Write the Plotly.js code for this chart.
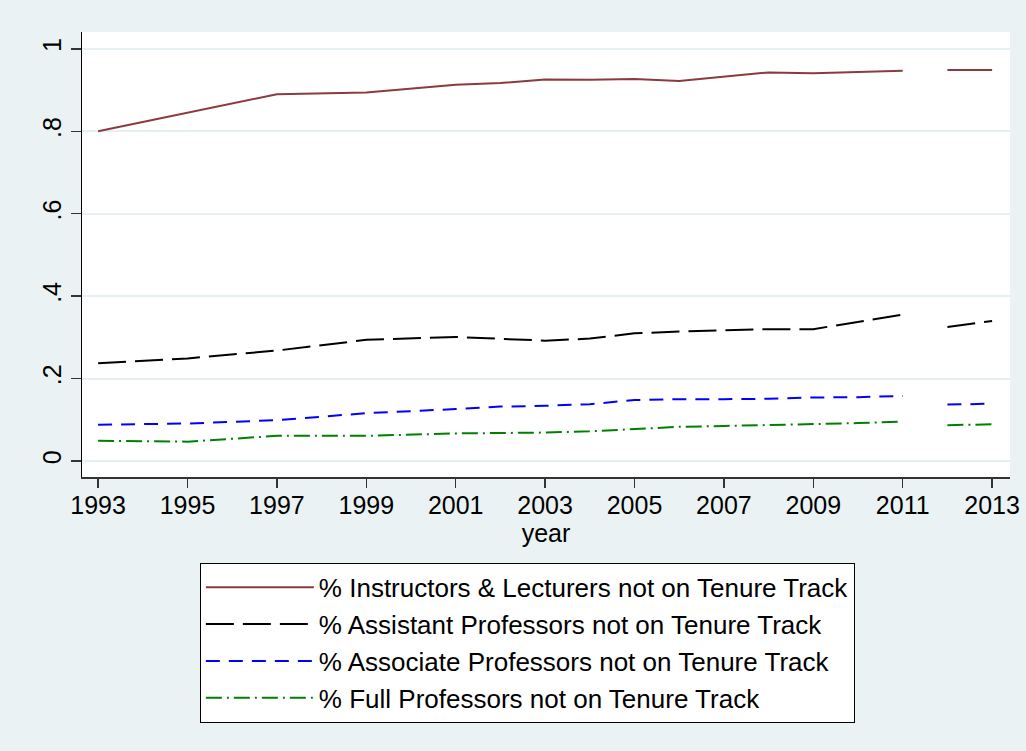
<!DOCTYPE html>
<html>
<head>
<meta charset="utf-8">
<script src="https://cdn.plot.ly/plotly-3.0.1.min.js"></script>
<style>
  html, body { margin: 0; padding: 0; background: #EAF2F3; }
  #chart { width: 1026px; height: 751px; }
</style>
</head>
<body>
<div id="chart"></div>
<script>
// Years (null marks the missing observation that breaks each line)
const years = [1993, 1995, 1997, 1999, 2001, 2002, 2003, 2004, 2005, 2006, 2007, 2008, 2009, 2010, 2011, null, 2012, 2013];

const instructorsLecturers = [0.800, 0.845, 0.890, 0.894, 0.913, 0.917, 0.926, 0.925, 0.927, 0.922, 0.933, 0.943, 0.941, 0.944, 0.947, null, 0.949, 0.949];
const assistantProfs      = [0.237, 0.249, 0.268, 0.294, 0.301, 0.296, 0.292, 0.297, 0.310, 0.314, 0.317, 0.320, 0.320, 0.337, 0.355, null, 0.325, 0.340];
const associateProfs      = [0.088, 0.091, 0.099, 0.116, 0.126, 0.132, 0.134, 0.138, 0.148, 0.150, 0.150, 0.151, 0.154, 0.155, 0.158, null, 0.137, 0.139];
const fullProfs           = [0.049, 0.047, 0.061, 0.061, 0.067, 0.068, 0.069, 0.072, 0.078, 0.083, 0.085, 0.087, 0.089, 0.092, 0.096, null, 0.087, 0.089];

const seriesNames = [
  "% Instructors & Lecturers not on Tenure Track",
  "% Assistant Professors not on Tenure Track",
  "% Associate Professors not on Tenure Track",
  "% Full Professors not on Tenure Track"
];

const xTickVals = [1993, 1995, 1997, 1999, 2001, 2003, 2005, 2007, 2009, 2011, 2013];
const yTickVals = [0, 0.2, 0.4, 0.6, 0.8, 1];
const yTickText = ["0", ".2", ".4", ".6", ".8", "1"];

const FONT = "Liberation Sans, Arial, Helvetica, sans-serif";

const styles = [
  {color: "#8B3A3E", dash: "solid"},
  {color: "#000000", dash: "28px,9px"},
  {color: "#0000FF", dash: "14px,9px"},
  {color: "#008000", dash: "16px,5px,2px,5px"}
];
const values = [instructorsLecturers, assistantProfs, associateProfs, fullProfs];

const traces = values.map((v, i) => ({
  type: "scatter",
  mode: "lines",
  x: years,
  y: v,
  name: seriesNames[i],
  connectgaps: false,
  line: {color: styles[i].color, width: 2, dash: styles[i].dash},
  hoverinfo: "x+y"
}));

const layout = {
  width: 1026,
  height: 751,
  paper_bgcolor: "#EAF2F3",
  plot_bgcolor: "#FFFFFF",
  margin: {l: 82, r: 16, t: 32, b: 274, pad: 0},
  font: {family: FONT, size: 25, color: "#000000"},
  showlegend: true,
  xaxis: {
    range: [1992.64, 2013.4],
    tickvals: xTickVals,
    ticks: "outside",
    ticklen: 9,
    tickwidth: 1.5,
    tickcolor: "#333333",
    ticklabelstandoff: -4,
    showline: true,
    linecolor: "#333333",
    linewidth: 1.5,
    showgrid: false,
    zeroline: false,
    tickfont: {family: FONT, size: 25, color: "#000000"},
    title: {text: "year", font: {family: FONT, size: 25, color: "#000000"}, standoff: 0}
  },
  yaxis: {
    range: [-0.0388, 1.041],
    tickvals: yTickVals,
    ticktext: yTickText,
    tickangle: -90,
    ticks: "outside",
    ticklen: 10,
    tickwidth: 1.5,
    tickcolor: "#333333",
    showline: true,
    linecolor: "#000000",
    linewidth: 1.5,
    showgrid: true,
    gridcolor: "#E6EFF1",
    gridwidth: 2,
    zeroline: false,
    tickfont: {family: FONT, size: 25, color: "#000000"}
  },
  legend: {
    x: 0.127,
    xanchor: "left",
    y: -0.193,
    yanchor: "top",
    bgcolor: "#FFFFFF",
    bordercolor: "#000000",
    borderwidth: 1,
    font: {family: FONT, size: 26, color: "#000000"},
    itemwidth: 108,
    entrywidth: 660,
    entrywidthmode: "pixels",
    tracegroupgap: 0
  }
};

Plotly.newPlot("chart", traces, layout, {displayModeBar: false, staticPlot: true});
</script>
</body>
</html>
